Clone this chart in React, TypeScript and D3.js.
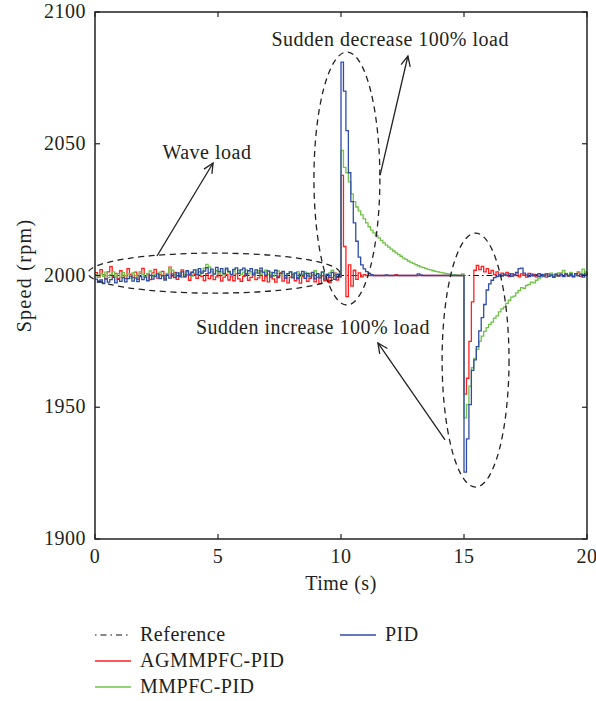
import React from 'react';
import * as d3 from 'd3';

// sampling period of every series (s); value i is at time i * T_STEP
const T_STEP = 0.1;
const REFERENCE_SPEED = 2000;
const X_TICKS = [0, 5, 10, 15, 20];
const Y_TICKS = [1900, 1950, 2000, 2050, 2100];

const PID = [
  1998.6, 1997.4, 1998.3, 1996.9, 1998.7, 1997.5, 1998.4, 1999.3, 1997.2, 1998.5,
  1997.8, 1999.2, 1997.6, 1998.8, 1999.8, 1997.9, 1999.0, 1997.7, 1999.6, 1998.4,
  1999.4, 1998.0, 2000.1, 1998.6, 1999.7, 2000.6, 1998.8, 1999.9, 1998.3, 2000.2,
  1999.0, 2000.6, 1999.2, 2001.0, 1999.6, 2001.4, 1999.7, 2001.8, 2000.2, 2001.2,
  2002.1, 2000.3, 2002.6, 2000.9, 2001.7, 2003.0, 2001.0, 2002.4, 2000.5, 2003.1,
  2001.5, 2002.6, 2000.7, 2002.8, 2001.6, 2000.4, 2002.3, 2002.9, 2000.8, 2002.1,
  2002.8, 2000.5, 2001.8, 2002.6, 2000.2, 2002.1, 2000.9, 2002.8, 2001.3, 2000.1,
  2001.7, 1999.4, 2001.1, 2002.0, 1999.2, 2000.8, 2001.6, 1999.0, 2000.7, 2001.4,
  1999.1, 2001.0, 1998.8, 2000.5, 2001.6, 1998.9, 2000.8, 1999.5, 2001.2, 1998.7,
  2000.7, 1999.1, 2001.4, 1998.6, 2000.4, 1999.3, 2001.2, 1998.5, 2000.3, 1999.4,
  2081, 2070, 2055, 2039, 2028, 2020, 2013, 2007, 2004, 2002.5,
  2001.5, 2000.8, 2000.3, 2000, 2000, 2000, 2000, 2000, 2000.2, 2000,
  2000, 2000, 2000, 2000, 2000, 2000, 2000, 2000, 2000, 2000,
  2000, 2000.6, 2000.2, 2000, 2000, 2000, 2000, 2000, 2000, 2000,
  2000, 2000, 2000, 2000, 2000, 2000, 2000, 2000, 2000, 2000,
  1925.4, 1938, 1951, 1964, 1968, 1973, 1979, 1984, 1989, 1994.5,
  1996.8, 1998.2, 1999.2, 1999.6, 2000.3, 1999.8, 2000.5, 2000.0, 2000.6, 1999.7,
  2000.4, 2001.2, 2002.6, 2002.8, 2000.9, 2000.2, 1999.6, 2000.5, 1999.9, 2000.3,
  1999.6, 2000.4, 1999.8, 2000.6, 1999.7, 2000.2, 1999.5, 2000.5, 1999.9, 2000.3,
  1999.7, 2000.6, 1999.8, 2000.4, 1999.6, 2000.7, 1999.9, 2000.5, 1999.4, 2000.6,
  1999.8,
];

const AGMMPFC_PID = [
  2001.1, 1999.3, 2002.2, 2000.3, 1998.7, 2001.4, 2003.4, 1999.6, 2000.8, 1998.9,
  2001.8, 2000.0, 1998.8, 2002.6, 2000.4, 1999.2, 2001.3, 1998.5, 2000.9, 2002.7,
  1999.6, 2000.6, 1998.4, 2001.0, 2002.3, 1999.0, 2000.3, 2001.6, 1998.8, 2000.7,
  2003.2, 1999.8, 2001.2, 1998.5, 2000.6, 2002.1, 1999.4, 2000.2, 1998.2, 2001.3,
  2000.3, 1998.9, 2001.4, 1999.7, 1998.1, 2000.7, 1998.8, 2000.0, 1998.4, 1999.5,
  2000.9, 1997.9, 1999.4, 2000.4, 1998.3, 1999.8, 1998.0, 2000.6, 1998.7, 1997.8,
  1999.7, 2000.7, 1998.2, 1999.3, 2000.9, 1998.4, 1999.1, 2001.7, 1998.0, 1999.6,
  1997.6, 2000.0, 1998.7, 1997.5, 1999.7, 2001.0, 1997.9, 1999.0, 1997.2, 1999.4,
  2000.6, 1998.0, 1999.2, 1997.1, 1999.6, 2000.7, 1997.8, 1998.9, 2000.2, 1997.6,
  1999.3, 1996.9, 1999.9, 1998.0, 2000.4, 1997.3, 1999.2, 2000.9, 1998.3, 1999.6,
  2038, 2011, 1992, 2004, 1996, 2002, 1998.5, 2001, 1999.5, 2000.3,
  2000, 2000, 2000, 2000, 2000, 2000, 2000, 2000, 2000, 2000,
  2000, 2000, 2000.3, 2000, 2000, 2000, 2000, 2000, 2000, 2000,
  2000, 2000, 2000, 2000, 2000, 2000, 2000, 2000, 2000, 2000,
  2000, 2000, 2000, 2000, 2000, 2000, 2000, 2000, 2000, 2000,
  1955, 1961, 1975, 1990, 2002, 2003.8, 2002.2, 2003.5, 2001.4, 2002.6,
  2000.8, 2001.9, 2000.3, 2001.4, 1999.8, 2000.9, 2000.1, 2001.2, 1999.6, 2000.7,
  2000.0, 2001.0, 1999.5, 2000.6, 2000.1, 1999.4, 2000.8, 1999.9, 2000.4, 1999.5,
  2000.7, 1999.8, 2000.3, 1999.4, 2000.6, 2000.0, 1999.3, 2000.5, 1999.8, 2000.9,
  1999.6, 2000.4, 1999.9, 2000.8, 1999.5, 2000.2, 2001.0, 1999.7, 2000.4, 2001.3,
  2000.2,
];

const MMPFC_PID = [
  2000.3, 1999.3, 2000.8, 1999.7, 2001.3, 1999.2, 2000.4, 2001.4, 1999.6, 2000.7,
  1999.4, 2001.1, 1999.9, 2000.6, 1999.0, 2001.0, 2000.0, 1999.3, 2001.5, 2000.3,
  1999.6, 2000.7, 2001.7, 1999.7, 2000.4, 1999.4, 2001.3, 2000.1, 1999.2, 2000.8,
  2003.0, 2002.0, 2000.3, 1999.7, 2001.0, 1999.3, 2000.4, 2001.4, 2000.6, 1999.8,
  2000.8, 2002.1, 2000.4, 2001.4, 2002.8, 2004.2, 2003.3, 2001.5, 2000.7, 2001.8,
  2000.6, 2001.4, 2000.3, 2002.2, 2001.1, 2000.1, 2001.7, 2000.7, 2002.0, 2000.4,
  2001.3, 2002.1, 2000.6, 2001.5, 2000.0, 2001.0, 2001.8, 2000.3, 2001.1, 2002.0,
  2000.4, 2001.3, 1999.7, 2000.8, 2001.7, 2000.0, 2001.0, 1999.4, 2000.6, 2001.4,
  1999.8, 2000.7, 2001.5, 1999.6, 2000.4, 2001.3, 1999.7, 2000.8, 2000.1, 2001.8,
  2000.3, 1999.4, 2001.1, 2000.0, 1999.3, 2001.0, 2002.0, 1999.8, 2000.8, 2000.1,
  2047.5, 2041, 2039, 2035.5, 2031, 2028, 2026, 2024.5, 2023, 2021.5,
  2020, 2018.5, 2017.2, 2016.2, 2015.2, 2014.3, 2013.3, 2012.4, 2011.5, 2010.8,
  2010, 2009.3, 2008.6, 2007.9, 2007.3, 2006.6, 2006.1, 2005.5, 2005.0, 2004.6,
  2004.1, 2003.7, 2003.3, 2003.0, 2002.7, 2002.3, 2002.1, 2001.8, 2001.6, 2001.4,
  2001.2, 2001.0, 2000.8, 2000.6, 2000.5, 2000.3, 2000.2, 2000.0, 2000.0, 2000.6,
  1946, 1951, 1958, 1965, 1968.5, 1972, 1975, 1977, 1978.8, 1980.2,
  1981.4, 1982.3, 1983.8, 1984.7, 1986.2, 1987.3, 1988.0, 1989.4, 1990.6, 1991.8,
  1992.2, 1993.4, 1994.3, 1995.4, 1995.1, 1996.2, 1996.6, 1997.5, 1997.2, 1998.2,
  1998.8, 1999.4, 1999.9, 2000.6, 1999.7, 2000.9, 2000.2, 1999.8, 2001.0, 2000.3,
  2001.9, 2000.8, 2000.2, 2001.2, 1999.9, 2000.7, 2001.5, 2000.4, 2002.4, 2001.2,
  2000.8,
];

const SERIES_NAMES = ['Reference', 'AGMMPFC-PID', 'MMPFC-PID', 'PID'];
const COLORS: Record<string, string> = {
  'Reference': '#111111',
  'AGMMPFC-PID': '#ff1f1f',
  'MMPFC-PID': '#72c24a',
  'PID': '#2f4ca8',
};

// annotations in data coordinates (time s, speed rpm)
const ANNOTATION_TEXTS = ['Sudden decrease 100% load', 'Wave load', 'Sudden increase 100% load'];
const ANNOTATION_POS = [[12.0, 2087.2], [4.55, 2044.2], [8.86, 1977.8]];
const ELLIPSES = [
  // cx, cy, rx (s), ry (rpm)
  [4.84, 2000.9, 5.12, 7.6],
  [10.24, 2036.8, 1.34, 48.0],
  [15.47, 1967.9, 1.36, 48.2],
];
const ARROWS = [
  // from (t, rpm) -> to (t, rpm)
  [2.52, 2007.4, 4.8, 2042.7],
  [11.59, 2038.1, 12.72, 2083.3],
  [14.23, 1937.6, 11.5, 1974.4],
];

const W = 596;
const H = 701;
const PLOT = { left: 95, top: 12, right: 587, bottom: 539 };
const FONT = '"Liberation Serif", "Times New Roman", serif';
const FS = 20;
const LS = 0.5;
const TEXT_COLOR = '#231f20';

export default function App() {
  const x = d3.scaleLinear().domain([0, 20]).range([PLOT.left, PLOT.right]);
  const y = d3.scaleLinear().domain([1900, 2100]).range([PLOT.bottom, PLOT.top]);

  const line = d3
    .line<number>()
    .x((_, i) => x(i * T_STEP))
    .y((d) => y(d))
    .curve(d3.curveStepAfter);

  const refLine = d3.line<number>().x((d) => x(d)).y(() => y(REFERENCE_SPEED));

  const tickLen = 5;
  const axisColor = '#222';

  const arrowHead = (x1: number, y1: number, x2: number, y2: number) => {
    const ang = Math.atan2(y2 - y1, x2 - x1);
    const L = 11;
    const a = (25 * Math.PI) / 180;
    const p1 = [x2 - L * Math.cos(ang - a), y2 - L * Math.sin(ang - a)];
    const p2 = [x2 - L * Math.cos(ang + a), y2 - L * Math.sin(ang + a)];
    return `M${p1[0]},${p1[1]}L${x2},${y2}L${p2[0]},${p2[1]}`;
  };

  const legendItems = [
    { name: SERIES_NAMES[0], lx: 95, ly: 635 },
    { name: SERIES_NAMES[1], lx: 95, ly: 661 },
    { name: SERIES_NAMES[2], lx: 95, ly: 687 },
    { name: SERIES_NAMES[3], lx: 340, ly: 635 },
  ];

  return (
    <svg
      width={W}
      height={H}
      style={{ position: 'absolute', left: 0, top: 0, background: '#fff' }}
      fontFamily={FONT}
    >
      <rect x={0} y={0} width={W} height={H} fill="#fff" />

      {/* reference */}
      <path
        d={refLine(x.domain()) || ''}
        fill="none"
        stroke={COLORS['Reference']}
        strokeWidth={1}
        strokeDasharray="6 3 1.5 3"
      />
      <path d={line(AGMMPFC_PID) || ''} fill="none" stroke={COLORS['AGMMPFC-PID']} strokeWidth={1.3} />
      <path d={line(MMPFC_PID) || ''} fill="none" stroke={COLORS['MMPFC-PID']} strokeWidth={1.3} />
      <path d={line(PID) || ''} fill="none" stroke={COLORS['PID']} strokeWidth={1.3} />

      {/* frame */}
      <rect
        x={PLOT.left}
        y={PLOT.top}
        width={PLOT.right - PLOT.left}
        height={PLOT.bottom - PLOT.top}
        fill="none"
        stroke={axisColor}
        strokeWidth={1.5}
      />
      {X_TICKS.map((t) => (
        <g key={'xt' + t}>
          <line x1={x(t)} x2={x(t)} y1={PLOT.bottom} y2={PLOT.bottom - tickLen} stroke={axisColor} strokeWidth={1.2} />
          <line x1={x(t)} x2={x(t)} y1={PLOT.top} y2={PLOT.top + tickLen} stroke={axisColor} strokeWidth={1.2} />
          <text x={x(t)} y={PLOT.bottom + 24} textAnchor="middle" fontSize={FS} letterSpacing={LS} fill={TEXT_COLOR}>
            {t}
          </text>
        </g>
      ))}
      {Y_TICKS.map((v) => (
        <g key={'yt' + v}>
          <line x1={PLOT.left} x2={PLOT.left + tickLen} y1={y(v)} y2={y(v)} stroke={axisColor} strokeWidth={1.2} />
          <line x1={PLOT.right} x2={PLOT.right - tickLen} y1={y(v)} y2={y(v)} stroke={axisColor} strokeWidth={1.2} />
          <text x={PLOT.left - 9} y={y(v) + 6} textAnchor="end" fontSize={FS} letterSpacing={LS} fill={TEXT_COLOR}>
            {v}
          </text>
        </g>
      ))}
      <text
        x={(PLOT.left + PLOT.right) / 2}
        y={PLOT.bottom + 51}
        textAnchor="middle"
        fontSize={FS}
        letterSpacing={LS}
        fill={TEXT_COLOR}
      >
        Time (s)
      </text>
      <text
        transform={`translate(31, ${(PLOT.top + PLOT.bottom) / 2}) rotate(-90)`}
        textAnchor="middle"
        fontSize={FS}
        letterSpacing={1.3}
        fill={TEXT_COLOR}
      >
        Speed (rpm)
      </text>

      {/* annotations */}
      {ELLIPSES.map(([cx, cy, rx, ry], i) => (
        <ellipse
          key={'el' + i}
          cx={x(cx)}
          cy={y(cy)}
          rx={x(cx + rx) - x(cx)}
          ry={y(cy - ry) - y(cy)}
          fill="none"
          stroke="#222"
          strokeWidth={1.3}
          strokeDasharray="6 4.5"
        />
      ))}
      {ARROWS.map(([t1, v1, t2, v2], i) => (
        <g key={'ar' + i} stroke="#222" strokeWidth={1.3} fill="none">
          <line x1={x(t1)} y1={y(v1)} x2={x(t2)} y2={y(v2)} />
          <path d={arrowHead(x(t1), y(v1), x(t2), y(v2))} />
        </g>
      ))}
      {ANNOTATION_TEXTS.map((txt, i) => (
        <text
          key={'an' + i}
          x={x(ANNOTATION_POS[i][0])}
          y={y(ANNOTATION_POS[i][1])}
          textAnchor="middle"
          fontSize={FS}
          letterSpacing={LS}
          fill={TEXT_COLOR}
        >
          {txt}
        </text>
      ))}

      {/* legend */}
      {legendItems.map((it) => (
        <g key={it.name}>
          <line
            x1={it.lx}
            x2={it.lx + 36}
            y1={it.ly}
            y2={it.ly}
            stroke={COLORS[it.name]}
            strokeWidth={it.name === 'Reference' ? 1 : 1.5}
            strokeDasharray={it.name === 'Reference' ? '1.5 4 6 4' : undefined}
          />
          <text x={it.lx + 45} y={it.ly + 6} fontSize={FS} letterSpacing={LS} fill={TEXT_COLOR}>
            {it.name}
          </text>
        </g>
      ))}
    </svg>
  );
}
